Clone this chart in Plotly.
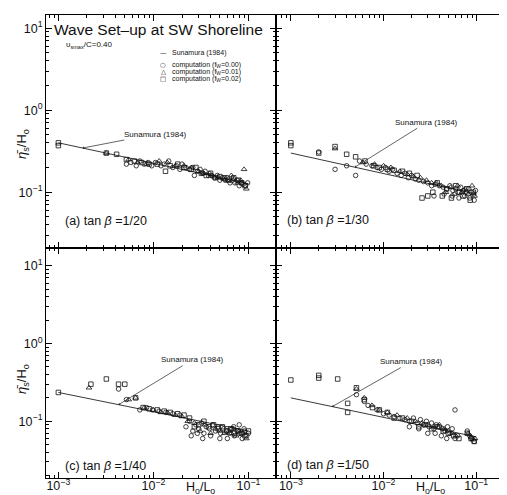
import math
import plotly.graph_objects as go

W, H = 507, 495
FONT = "Liberation Sans, Arial, sans-serif"

# ---------------- data ----------------
LINE_X = [0.001, 0.1]
LINE_Y = {
    "a": [0.40, 0.127],
    "b": [0.30, 0.095],
    "c": [0.235, 0.075],
    "d": [0.20, 0.063],
}

# panel (a) tan beta = 1/20
A_SQ_X = [0.001, 0.001, 0.0032, 0.0041, 0.0052, 0.0063, 0.0075, 0.009, 0.011, 0.0134, 0.015, 0.018, 0.021,
          0.025, 0.028, 0.032, 0.036, 0.04, 0.045, 0.05, 0.056, 0.062, 0.07, 0.078, 0.085, 0.092]
A_SQ_Y = [0.40, 0.37, 0.30, 0.29, 0.25, 0.24, 0.23, 0.22, 0.22, 0.18, 0.21, 0.22, 0.20,
          0.19, 0.20, 0.17, 0.16, 0.17, 0.15, 0.155, 0.15, 0.14, 0.15, 0.14, 0.13, 0.12]
A_CI_X = [0.0052, 0.0058, 0.0066, 0.0072, 0.008, 0.0088, 0.0096, 0.0105, 0.012, 0.013, 0.0145, 0.016, 0.0175,
          0.019, 0.02, 0.022, 0.024, 0.026, 0.027, 0.029, 0.031, 0.033, 0.035, 0.038, 0.041, 0.044, 0.047,
          0.05, 0.053, 0.057, 0.06, 0.064, 0.068, 0.072, 0.076, 0.08, 0.084, 0.088, 0.093, 0.098]
A_CI_Y = [0.22, 0.23, 0.21, 0.24, 0.22, 0.23, 0.21, 0.23, 0.21, 0.22, 0.24, 0.20, 0.21,
          0.19, 0.22, 0.20, 0.19, 0.20, 0.16, 0.18, 0.19, 0.17, 0.18, 0.16, 0.16, 0.15, 0.16,
          0.14, 0.15, 0.14, 0.15, 0.13, 0.14, 0.13, 0.14, 0.12, 0.13, 0.125, 0.12, 0.13]
A_TR_X = [0.0032, 0.0055, 0.0068, 0.0085, 0.0115, 0.014, 0.017, 0.021, 0.025, 0.03, 0.034, 0.039, 0.043,
          0.048, 0.055, 0.06, 0.066, 0.071, 0.077, 0.083, 0.09, 0.095]
A_TR_Y = [0.30, 0.25, 0.23, 0.22, 0.24, 0.23, 0.21, 0.21, 0.20, 0.18, 0.17, 0.17, 0.155,
          0.15, 0.145, 0.14, 0.16, 0.145, 0.13, 0.14, 0.19, 0.11]

# panel (b) tan beta = 1/30
B_SQ_X = [0.001, 0.001, 0.002, 0.003, 0.004, 0.005, 0.0063, 0.0078, 0.009, 0.011, 0.013, 0.016, 0.019,
          0.023, 0.026, 0.03, 0.034, 0.038, 0.043, 0.048, 0.054, 0.06, 0.066, 0.072, 0.079, 0.086, 0.093]
B_SQ_Y = [0.40, 0.37, 0.30, 0.36, 0.29, 0.27, 0.24, 0.21, 0.20, 0.19, 0.185, 0.18, 0.17,
          0.16, 0.085, 0.09, 0.10, 0.13, 0.09, 0.11, 0.085, 0.12, 0.10, 0.09, 0.11, 0.08, 0.10]
B_CI_X = [0.002, 0.003, 0.004, 0.005, 0.0055, 0.0065, 0.0075, 0.0085, 0.0095, 0.0105, 0.0115, 0.0125, 0.014,
          0.0155, 0.017, 0.0185, 0.02, 0.022, 0.024, 0.027, 0.03, 0.033, 0.036, 0.04, 0.044, 0.048, 0.052,
          0.056, 0.06, 0.064, 0.068, 0.073, 0.078, 0.083, 0.088, 0.094, 0.098, 0.035, 0.045, 0.055, 0.065,
          0.075, 0.085, 0.095]
B_CI_Y = [0.31, 0.19, 0.21, 0.16, 0.24, 0.22, 0.21, 0.20, 0.19, 0.20, 0.18, 0.19, 0.17,
          0.16, 0.17, 0.15, 0.16, 0.145, 0.14, 0.135, 0.13, 0.12, 0.125, 0.12, 0.115, 0.11, 0.12,
          0.105, 0.11, 0.10, 0.115, 0.105, 0.10, 0.11, 0.10, 0.095, 0.105, 0.09, 0.095, 0.09, 0.085,
          0.09, 0.085, 0.08]
B_TR_X = [0.003, 0.006, 0.008, 0.01, 0.012, 0.015, 0.018, 0.021, 0.025, 0.029, 0.033, 0.037, 0.042,
          0.047, 0.053, 0.058, 0.063, 0.07, 0.076, 0.082, 0.09, 0.096]
B_TR_Y = [0.34, 0.23, 0.22, 0.21, 0.20, 0.18, 0.165, 0.155, 0.15, 0.14, 0.13, 0.13, 0.12,
          0.10, 0.115, 0.095, 0.12, 0.10, 0.11, 0.095, 0.12, 0.09]

# panel (c) tan beta = 1/40
C_SQ_X = [0.001, 0.0022, 0.0032, 0.0043, 0.005, 0.0065, 0.0078, 0.009, 0.011, 0.013, 0.015, 0.018, 0.021,
          0.024, 0.027, 0.03, 0.034, 0.038, 0.043, 0.048, 0.053, 0.059, 0.065, 0.071, 0.078, 0.085, 0.092, 0.1]
C_SQ_Y = [0.235, 0.30, 0.35, 0.30, 0.30, 0.20, 0.15, 0.145, 0.14, 0.135, 0.13, 0.125, 0.12,
          0.11, 0.085, 0.09, 0.10, 0.085, 0.09, 0.08, 0.085, 0.075, 0.08, 0.07, 0.075, 0.07, 0.065, 0.075]
C_CI_X = [0.0043, 0.0052, 0.0072, 0.0085, 0.0098, 0.0115, 0.0135, 0.016, 0.019, 0.022, 0.024, 0.026, 0.028,
          0.03, 0.032, 0.034, 0.036, 0.039, 0.042, 0.045, 0.048, 0.051, 0.055, 0.059, 0.063, 0.067, 0.071,
          0.076, 0.081, 0.086, 0.091, 0.096, 0.1, 0.025, 0.029, 0.033, 0.04, 0.05, 0.06, 0.07, 0.08, 0.09]
C_CI_Y = [0.26, 0.19, 0.14, 0.15, 0.14, 0.135, 0.13, 0.125, 0.12, 0.085, 0.10, 0.075, 0.09,
          0.08, 0.095, 0.07, 0.085, 0.08, 0.09, 0.075, 0.085, 0.07, 0.08, 0.075, 0.07, 0.08, 0.065,
          0.075, 0.07, 0.06, 0.075, 0.065, 0.07, 0.065, 0.07, 0.06, 0.065, 0.06, 0.06, 0.085, 0.09, 0.08]
C_TR_X = [0.0021, 0.0055, 0.0065, 0.008, 0.01, 0.012, 0.014, 0.017, 0.02, 0.023, 0.027, 0.031, 0.035,
          0.04, 0.045, 0.05, 0.056, 0.062, 0.066, 0.07, 0.074, 0.08, 0.088, 0.095]
C_TR_Y = [0.27, 0.19, 0.20, 0.15, 0.14, 0.13, 0.13, 0.12, 0.115, 0.10, 0.095, 0.075, 0.09,
          0.07, 0.08, 0.075, 0.07, 0.075, 0.07, 0.08, 0.065, 0.075, 0.07, 0.06]

# panel (d) tan beta = 1/50
D_SQ_X = [0.001, 0.002, 0.002, 0.0032, 0.0041, 0.0041, 0.0051, 0.0062, 0.0076, 0.009, 0.011, 0.013, 0.016,
          0.02, 0.024, 0.028, 0.033, 0.038, 0.044, 0.05, 0.057, 0.065, 0.08, 0.088, 0.095]
D_SQ_Y = [0.34, 0.39, 0.36, 0.35, 0.17, 0.13, 0.27, 0.19, 0.15, 0.14, 0.13, 0.11, 0.11,
          0.10, 0.085, 0.09, 0.08, 0.085, 0.075, 0.07, 0.065, 0.06, 0.07, 0.06, 0.055]
D_CI_X = [0.0051, 0.0062, 0.0068, 0.0085, 0.01, 0.0115, 0.013, 0.015, 0.017, 0.019, 0.021, 0.023, 0.025,
          0.027, 0.029, 0.031, 0.033, 0.035, 0.037, 0.04, 0.043, 0.046, 0.049, 0.052, 0.055, 0.059, 0.059,
          0.063, 0.08, 0.085, 0.09, 0.095, 0.019, 0.024, 0.03, 0.036, 0.042, 0.048]
D_CI_Y = [0.22, 0.18, 0.16, 0.14, 0.125, 0.12, 0.115, 0.11, 0.105, 0.10, 0.11, 0.095, 0.105,
          0.09, 0.10, 0.085, 0.095, 0.08, 0.09, 0.085, 0.08, 0.075, 0.085, 0.07, 0.08, 0.06, 0.14,
          0.065, 0.075, 0.065, 0.06, 0.055, 0.085, 0.08, 0.07, 0.07, 0.065, 0.06]
D_TR_X = [0.0051, 0.0062, 0.0075, 0.009, 0.011, 0.014, 0.018, 0.022, 0.026, 0.03, 0.035, 0.04, 0.045,
          0.05, 0.055, 0.06, 0.082, 0.088, 0.092, 0.097]
D_TR_Y = [0.26, 0.20, 0.16, 0.14, 0.13, 0.12, 0.11, 0.10, 0.095, 0.09, 0.085, 0.09, 0.08,
          0.075, 0.07, 0.065, 0.07, 0.062, 0.058, 0.06]

PANELS = [
    ("a", "1/20", (A_CI_X, A_CI_Y), (A_TR_X, A_TR_Y), (A_SQ_X, A_SQ_Y)),
    ("b", "1/30", (B_CI_X, B_CI_Y), (B_TR_X, B_TR_Y), (B_SQ_X, B_SQ_Y)),
    ("c", "1/40", (C_CI_X, C_CI_Y), (C_TR_X, C_TR_Y), (C_SQ_X, C_SQ_Y)),
    ("d", "1/50", (D_CI_X, D_CI_Y), (D_TR_X, D_TR_Y), (D_SQ_X, D_SQ_Y)),
]
# where the "Sunamura (1984)" pointer touches the line (H0/L0 value)
POINTER_X = {"a": 0.0018, "b": 0.0049, "c": 0.0043, "d": 0.0028}
POINTER_OFF = {"a": (73, -14), "b": (72, -45), "c": (74, -45), "d": (79, -45)}

X_TICKS = [0.001, 0.01, 0.1]
X_TICKTEXT = ["10<sup>−3</sup>", "10<sup>−2</sup>", "10<sup>−1</sup>"]
Y_TICKS = [0.1, 1, 10]
Y_TICKTEXT = ["10<sup>−1</sup>", "10<sup>0</sup>", "10<sup>1</sup>"]

# ---------------- layout geometry (pixels) ----------------
XL = (38, 268)
XR = (268, 497)
YT = (7, 240)
YB = (240, 470)


def px(x):
    return x / W


def py(y):
    return 1 - y / H


def minor_vals(lo_exp, hi_exp):
    v = []
    for e in range(lo_exp, hi_exp + 1):
        for m in range(2, 10):
            v.append(m * 10 ** e)
    return v


fig = go.Figure()

sym = {0: "circle-open", 1: "triangle-up-open", 2: "square-open"}
names = ["computation (fw=0.00)", "computation (fw=0.01)", "computation (fw=0.02)"]

for i, (key, slope, ci, tr, sq) in enumerate(PANELS):
    n = "" if i == 0 else str(i + 1)
    xa, ya = "x" + n, "y" + n
    fig.add_trace(go.Scatter(x=LINE_X, y=LINE_Y[key], mode="lines", xaxis=xa, yaxis=ya,
                             line=dict(color="#222", width=0.9), showlegend=False, name="Sunamura (1984)"))
    for k, (xs, ys) in enumerate([ci, tr, sq]):
        fig.add_trace(go.Scatter(x=xs, y=ys, mode="markers", xaxis=xa, yaxis=ya, name=names[k],
                                 showlegend=False,
                                 marker=dict(symbol=sym[k], size=4.5 if k != 1 else 5,
                                             color="#111", line=dict(width=0.8, color="#111"))))

axis_common = dict(type="log", showgrid=False, zeroline=False, showline=True, linecolor="black",
                   linewidth=1, mirror="ticks", ticks="inside", ticklen=6, tickwidth=1,
                   tickcolor="black", tickfont=dict(family=FONT, size=12.5, color="#111"))

layout = dict(width=W, height=H, margin=dict(l=0, r=0, t=0, b=0), paper_bgcolor="white",
              plot_bgcolor="white", showlegend=False)

doms = [(XL, YT), (XR, YT), (XL, YB), (XR, YB)]
xr = {0: [-3.13, -0.71], 1: [-3.16, -0.69], 2: [-3.13, -0.71], 3: [-3.16, -0.69]}
yr = {0: [-1.68, 1.16], 1: [-1.68, 1.16], 2: [-1.73, 1.23], 3: [-1.73, 1.23]}

for i, (dx, dy) in enumerate(doms):
    n = "" if i == 0 else str(i + 1)
    xax = dict(axis_common)
    xax.update(domain=[px(dx[0]), px(dx[1])], anchor="y" + n, range=xr[i],
               tickvals=X_TICKS, ticktext=X_TICKTEXT, showticklabels=(i >= 2),
               minor=dict(tickvals=minor_vals(-4, -1), ticks="inside", ticklen=3,
                          tickwidth=0.8, tickcolor="black"))
    if i >= 2:
        xax["ticklabelstandoff"] = -4
    yax = dict(axis_common)
    yax.update(domain=[py(dy[1]), py(dy[0])], anchor="x" + n, range=yr[i],
               tickvals=Y_TICKS, ticktext=Y_TICKTEXT, showticklabels=(i % 2 == 0),
               minor=dict(tickvals=minor_vals(-2, 1), ticks="inside", ticklen=3,
                          tickwidth=0.8, tickcolor="black"))
    layout["xaxis" + n] = xax
    layout["yaxis" + n] = yax

fig.update_layout(**layout)

ann = []
# title and parameter
ann.append(dict(text="Wave Set–up at SW Shoreline", xref="paper", yref="paper", x=px(44), y=py(22),
                xanchor="left", yanchor="middle", showarrow=False,
                font=dict(family=FONT, size=15.5, color="#111")))
ann.append(dict(text="υ<sub>smax</sub>/C=0.40", xref="paper", yref="paper", x=px(56), y=py(37),
                xanchor="left", yanchor="middle", showarrow=False,
                font=dict(family=FONT, size=8, color="#111")))

# legend (manual)
leg_rows = [("—", "Sunamura (1984)", 45),
            ("○", "computation (f<sub>W</sub>=0.00)", 57),
            ("△", "computation (f<sub>W</sub>=0.01)", 64),
            ("□", "computation (f<sub>W</sub>=0.02)", 71)]
for s, t, yy in leg_rows:
    ann.append(dict(text=s, xref="paper", yref="paper", x=px(155), y=py(yy), xanchor="center",
                    yanchor="middle", showarrow=False, font=dict(family="DejaVu Sans", size=6.5, color="#111")))
    ann.append(dict(text=t, xref="paper", yref="paper", x=px(162), y=py(yy), xanchor="left",
                    yanchor="middle", showarrow=False, font=dict(family=FONT, size=7, color="#111")))

# panel labels and pointers
lab_pos = {"a": (55, 213), "b": (277, 212), "c": (55, 458), "d": (277, 457)}
for i, (key, slope, ci, tr, sq) in enumerate(PANELS):
    n = "" if i == 0 else str(i + 1)
    lx, ly = lab_pos[key]
    ann.append(dict(text="(%s) tan <i>β</i> =%s" % (key, slope), xref="paper", yref="paper",
                    x=px(lx), y=py(ly), xanchor="left", yanchor="middle", showarrow=False,
                    font=dict(family=FONT, size=12.5, color="#111")))
    # pointer on the Sunamura line (log-linear interpolation of the line arrays)
    x0, x1 = LINE_X
    y0, y1 = LINE_Y[key]
    t = (math.log10(POINTER_X[key]) - math.log10(x0)) / (math.log10(x1) - math.log10(x0))
    ly_ = math.log10(y0) + t * (math.log10(y1) - math.log10(y0))
    axo, ayo = POINTER_OFF[key]
    ann.append(dict(text="Sunamura (1984)", xref="x" + n, yref="y" + n,
                    x=math.log10(POINTER_X[key]), y=ly_, ax=axo, ay=ayo, showarrow=True,
                    arrowhead=1, arrowsize=0.7, arrowwidth=0.7, arrowcolor="#222", standoff=0,
                    font=dict(family=FONT, size=8, color="#111")))

# axis titles
for yc in (136, 371):
    ann.append(dict(text="<i>η̄</i><sub>s</sub>/H<sub>o</sub>", xref="paper", yref="paper",
                    x=px(14), y=py(yc), xanchor="center", yanchor="middle", textangle=-90,
                    showarrow=False, font=dict(family=FONT, size=13, color="#111")))
for xc in (192, 422):
    ann.append(dict(text="H<sub>o</sub>/L<sub>o</sub>", xref="paper", yref="paper",
                    x=px(xc), y=py(480), xanchor="center", yanchor="middle", showarrow=False,
                    font=dict(family=FONT, size=12.5, color="#111")))

fig.update_layout(annotations=ann)
fig.write_html("out.html")
